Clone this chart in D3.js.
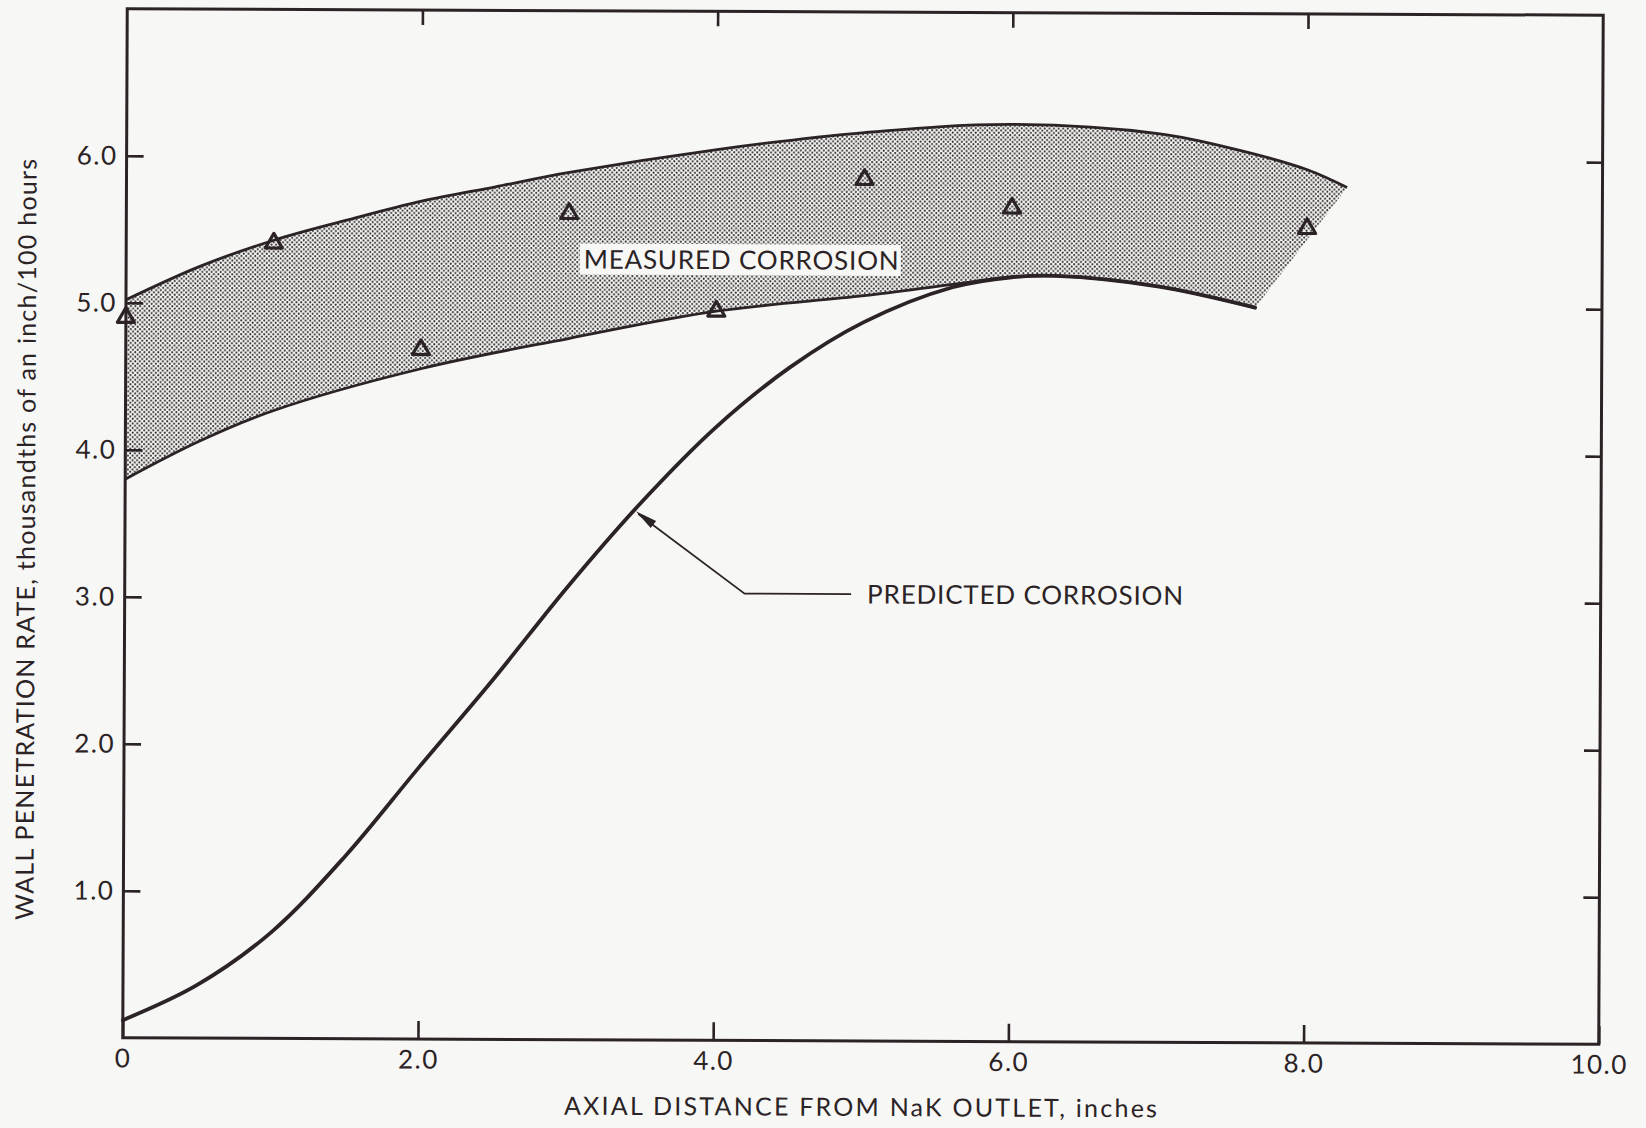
<!DOCTYPE html>
<html>
<head>
<meta charset="utf-8">
<script src="https://cdn.jsdelivr.net/npm/d3@7/dist/d3.min.js"></script>
<style>
  html, body { margin: 0; padding: 0; background: #f7f7f5; }
  svg { display: block; }
  text { font-family: Lato, "DejaVu Sans", sans-serif; fill: #2b2325; }
</style>
</head>
<body>
<svg id="chart" width="1646" height="1128"></svg>
<script>
// Axis ticks
const xTickValues = [0, 2, 4, 6, 8, 10];
const xTickLabels = ["0", "2.0", "4.0", "6.0", "8.0", "10.0"];
const yTickValues = [1, 2, 3, 4, 5, 6];
const yTickLabels = ["1.0", "2.0", "3.0", "4.0", "5.0", "6.0"];

// Measured corrosion band: upper and lower envelopes
const bandUpperX = [0, 0.5, 1, 1.5, 2, 2.5, 3, 4, 5, 6, 7, 7.5, 8, 8.27];
const bandUpperY = [5.02, 5.25, 5.43, 5.57, 5.70, 5.80, 5.90, 6.06, 6.18, 6.24, 6.18, 6.08, 5.94, 5.82];
const bandLowerX = [0, 0.5, 1, 2, 3, 4, 5, 5.6, 6, 6.3, 7, 7.65];
const bandLowerY = [3.80, 4.06, 4.27, 4.56, 4.77, 4.96, 5.07, 5.15, 5.20, 5.21, 5.14, 5.00];

// Predicted corrosion curve
const predictedX = [0, 0.5, 1, 1.5, 2, 2.5, 3, 3.5, 4, 4.5, 5, 5.6, 6, 6.3, 7, 7.65];
const predictedY = [0.12, 0.36, 0.72, 1.24, 1.85, 2.45, 3.08, 3.66, 4.17, 4.58, 4.89, 5.13, 5.20, 5.21, 5.14, 5.00];

// Measured data points (triangles)
const measuredX = [0, 1, 2, 3, 4, 5, 6, 8];
const measuredY = [4.90, 5.41, 4.69, 5.62, 4.96, 5.86, 5.67, 5.54];

// Annotation anchors (data units)
const predictedArrowX = 3.45;
const predictedKnee = [4.2, 3.04];
const predictedLabelPos = [5.03, 3.04];
const measuredLabelPos = [3.10, 5.31];

const ink = "#2b2325";
const svg = d3.select("#chart");

const defs = svg.append("defs");
const pat = defs.append("pattern")
  .attr("id", "stipple")
  .attr("patternUnits", "userSpaceOnUse")
  .attr("width", 4.6).attr("height", 4.6);
pat.append("circle").attr("cx", 1.15).attr("cy", 1.15).attr("r", 1.05).attr("fill", "#2e2a2b");
pat.append("circle").attr("cx", 3.45).attr("cy", 3.45).attr("r", 1.05).attr("fill", "#2e2a2b");

// whole drawing sits very slightly tilted, like a scanned sheet
const g = svg.append("g").attr("transform", "rotate(0.25, 864, 525)");

const x = d3.scaleLinear().domain([0, 10]).range([125, 1601]);
const y = d3.scaleLinear().domain([0, 7]).range([1041, 12]);

const zip = (xs, ys) => xs.map((v, i) => [v, ys[i]]);
const upper = zip(bandUpperX, bandUpperY);
const lower = zip(bandLowerX, bandLowerY);
const predicted = zip(predictedX, predictedY);
const measured = zip(measuredX, measuredY);

const line = d3.line()
  .x(d => x(d[0])).y(d => y(d[1]))
  .curve(d3.curveCatmullRom.alpha(0.5));

// Stippled band: upper edge forward, straight right edge, lower edge back
const bandPath = line(upper) + "L" + line(lower.slice().reverse()).slice(1) + "Z";
g.append("path")
  .attr("d", bandPath)
  .attr("fill", "url(#stipple)")
  .attr("stroke", "none");

// Measured label with cleared background
const mLabel = g.append("text")
  .attr("x", x(measuredLabelPos[0]))
  .attr("y", y(measuredLabelPos[1]))
  .attr("dy", "0.36em")
  .attr("font-size", 26)
  .attr("textLength", 315)
  .attr("lengthAdjust", "spacing")
  .text("MEASURED CORROSION");
const mb = mLabel.node().getBBox();
g.insert("rect", "text")
  .attr("x", mb.x - 4).attr("y", mb.y + 1)
  .attr("width", mb.width + 6).attr("height", mb.height - 1)
  .attr("fill", "#f7f7f5");

// Band envelopes
g.append("path").attr("d", line(upper))
  .attr("fill", "none").attr("stroke", ink).attr("stroke-width", 2.8);
g.append("path").attr("d", line(lower))
  .attr("fill", "none").attr("stroke", ink).attr("stroke-width", 2.8);

// Predicted curve
const predPath = g.append("path").attr("d", line(predicted))
  .attr("fill", "none").attr("stroke", ink).attr("stroke-width", 3.8)
  .attr("stroke-linecap", "round");

// Frame
g.append("rect")
  .attr("x", x(0)).attr("y", y(7))
  .attr("width", x(10) - x(0)).attr("height", y(0) - y(7))
  .attr("fill", "none").attr("stroke", ink).attr("stroke-width", 3);

// Axes
const styleAxis = sel => {
  sel.select(".domain").remove();
  sel.selectAll(".tick line").attr("stroke", ink).attr("stroke-width", 2.6);
  sel.selectAll(".tick text")
    .attr("font-size", 26).attr("letter-spacing", 1.5)
    .attr("fill", ink).style("font-family", "Lato, 'DejaVu Sans', sans-serif");
};

g.append("g").attr("transform", `translate(0,${y(0)})`)
  .call(d3.axisBottom(x).tickValues(xTickValues)
    .tickFormat((d, i) => xTickLabels[i])
    .tickSizeInner(-18).tickSizeOuter(0).tickPadding(11))
  .call(styleAxis);

g.append("g").attr("transform", `translate(0,${y(7)})`)
  .call(d3.axisTop(x).tickValues(xTickValues.slice(1, -1))
    .tickFormat("").tickSizeInner(-15).tickSizeOuter(0))
  .call(styleAxis);

g.append("g").attr("transform", `translate(${x(0)},0)`)
  .call(d3.axisLeft(y).tickValues(yTickValues)
    .tickFormat((d, i) => yTickLabels[i])
    .tickSizeInner(-17).tickSizeOuter(0).tickPadding(9))
  .call(styleAxis);

g.append("g").attr("transform", `translate(${x(10)},0)`)
  .call(d3.axisRight(y).tickValues(yTickValues)
    .tickFormat("").tickSizeInner(-16).tickSizeOuter(0))
  .call(styleAxis);

// Measured points
const tri = d3.symbol().type(d3.symbolTriangle).size(125);
g.append("g").selectAll("path")
  .data(measured)
  .join("path")
  .attr("transform", d => `translate(${x(d[0])},${y(d[1])})`)
  .attr("d", tri)
  .attr("fill", "none")
  .attr("stroke", ink)
  .attr("stroke-width", 3.2)
  .attr("stroke-linejoin", "round");

// Leader for predicted label: tip found on the drawn curve
function pointAtX(node, px) {
  const total = node.getTotalLength();
  let lo = 0, hi = total;
  for (let k = 0; k < 40; k++) {
    const mid = (lo + hi) / 2;
    if (node.getPointAtLength(mid).x < px) lo = mid; else hi = mid;
  }
  return node.getPointAtLength((lo + hi) / 2);
}
const tip = pointAtX(predPath.node(), x(predictedArrowX));
const knee = [x(predictedKnee[0]), y(predictedKnee[1])];
const leaderEnd = [x(predictedLabelPos[0]) - 16, y(predictedLabelPos[1])];

g.append("path")
  .attr("d", `M${leaderEnd[0]},${leaderEnd[1]}L${knee[0]},${knee[1]}L${tip.x + 4},${tip.y + 4}`)
  .attr("fill", "none").attr("stroke", ink).attr("stroke-width", 1.8);

// Arrowhead
const dx = knee[0] - tip.x, dy = knee[1] - tip.y;
const len = Math.hypot(dx, dy);
const ux = dx / len, uy = dy / len;
const ah = 24, aw = 4.5;
const bx = tip.x + ux * ah, by = tip.y + uy * ah;
g.append("path")
  .attr("d", `M${tip.x + ux * 2},${tip.y + uy * 2}L${bx - uy * aw},${by + ux * aw}L${bx + uy * aw},${by - ux * aw}Z`)
  .attr("fill", ink);

g.append("text")
  .attr("x", x(predictedLabelPos[0]))
  .attr("y", y(predictedLabelPos[1]))
  .attr("dy", "0.36em")
  .attr("font-size", 26)
  .attr("textLength", 316)
  .attr("lengthAdjust", "spacing")
  .text("PREDICTED CORROSION");

// Axis titles
g.append("text")
  .attr("x", (x(0) + x(10)) / 2)
  .attr("y", y(0) + 75)
  .attr("text-anchor", "middle")
  .attr("font-size", 25)
  .attr("textLength", 593)
  .attr("lengthAdjust", "spacing")
  .text("AXIAL DISTANCE FROM NaK OUTLET, inches");

g.append("text")
  .attr("transform", "translate(35,543) rotate(-90)")
  .attr("text-anchor", "middle")
  .attr("font-size", 25)
  .attr("textLength", 761)
  .attr("lengthAdjust", "spacing")
  .text("WALL PENETRATION RATE, thousandths of an inch/100 hours");
</script>
</body>
</html>
